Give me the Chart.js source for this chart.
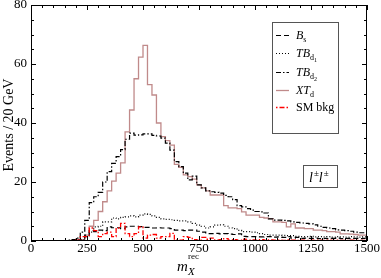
<!DOCTYPE html>
<html><head><meta charset="utf-8">
<script src="https://cdn.jsdelivr.net/npm/chart.js@4"></script>
<style>html,body{margin:0;padding:0;background:#fff}canvas{display:block}</style>
</head><body>
<canvas id="c" width="381" height="278"></canvas>
<script>
// bin edges (GeV), 20 GeV bins
const binEdges = [0,20,40,60,80,100,120,140,160,180,200,220,240,260,280,300,320,340,360,380,
400,420,440,460,480,500,520,540,560,580,600,620,640,660,680,700,720,740,760,780,
800,820,840,860,880,900,920,940,960,980,1000,1020,1040,1060,1080,1100,1120,1140,1160,1180,
1200,1220,1240,1260,1280,1300,1320,1340,1360,1380,1400,1420,1440,1460,1480,1500];

const bsVals = [0,0,0,0,0,0,0,0,0,0.1,
 0.3,1,2,3.5,3.2, 3.7,3.5,4.8,4.5,4.5, 4.2,4.8,5,5,4.9, 4.6,4.6,4.4,4.5,4.4,
 4.4,4.2,3.7,3.7,3.5, 3.7,3.7,3.3,3,2.5, 2.5,2.6,2.4,2.5,2.3, 2.2,2.4,1.6,1.5,1.5,
 1.5,1.4,1.5,1.5,1.3, 1.4,1.2,1.5,1.0,1.2, 0.9,1.0,0.9,1.0,0.8, 0.9,0.8,0.9,1.0,0.8,
 0.9,0.8,0.9,0.8,0.9];
const tbd1Vals = [0,0,0,0,0,0,0,0,0,0,
 0.2,0.5,1.5,3,4.8, 5,6.5,6.5,7.8,7.5, 8,8.2,8.5,8.2,8.8, 9.2,9,8.5,8,7.5,
 7.3,7.2,7,6.8,6.8, 6.5,6,5.4,5,4.4, 4.8,5.4,5.5,5,4.4, 4.2,3.6,3.2,3.2,3,
 2.8,2.5,2.2,2,2, 2,1.9,1.8,1.8,1.6, 1.5,1.5,1.6,1.4,1.5, 1.4,1.5,1.3,1.5,1.4,
 1.3,1.5,1.4,1.3,1.4];
const tbd2Vals = [0,0,0,0,0,0,0,0,0.3,0.5,
 1,3,7,13,15, 16.5,20,23.5,26.3,28.6, 31,34.5,36.6,35.9,36, 36.3,36.3,35.8,35.6,34.9,
 33.2,30.8,26.9,25.2,23, 20.7,22,19,18,17, 16.7,16.5,16.2,15.5,15, 14,12,11.6,11,10.5,
 10,9.9,9.5,7.5,7.1, 7.1,7,6.8,6.5,6.3, 6.1,6,5.8,5.5,5, 4.6,4.4,4.2,3.8,3.7,
 3.5,3.3,3,2.8,2.8];
const xtdVals = [0,0,0,0,0,0,0,0,0,0.2,
 0.3,0.5,2,5,7, 10,13.3,17,20.3,23, 26.5,37,44.4,55,62.3, 66.3,53,49.5,40,35.4,
 34,32.5,26,25,22.4, 21.8,21,19,18,17, 15.6,15.6,15.6,12,11.2, 11.2,11,9.9,8.8,8.8,
 8.8,8,7.8,7.6,6.5, 6.5,6.3,4.8,5.8,4.4, 4.4,4.2,4.2,3.7,3.7, 3.5,3.2,3.2,3,2.4,
 2.4,2.3,2.2,2,2];
const smVals = [0,0,0,0,0,0,0,0,0,0.1,
 0.3,1.5,1.5,4.4,3.5, 1.5,2.5,3,1.5,4.4, 6,2.5,1.5,2.5,4.8, 1,2,2.2,1,1.5,
 1.5,2.6,0.3,0.3,1.5, 1.2,0.5,0.3,1.2,0.6, 1,0.3,0.5,0.8,0.3, 0.5,0.2,0.6,0.3,0.4,
 0.3,0.5,0.2,0.4,0.3, 0.3,0.2,0.4,0.3,0.2, 0.3,0.2,0.3,0.2,0.3, 0.2,0.3,0.2,0.3,0.2,
 0.2,0.3,0.2,0.2,0.2];

const xMajorTicks = [0,250,500,750,1000,1250,1500];
const xMinorTicks = [50,100,150,200,300,350,400,450,550,600,650,700,800,850,900,950,1050,1100,1150,1200,1300,1350,1400,1450];
const yMajorTicks = [0,20,40,60,80];
const yMinorTicks = [5,10,15,25,30,35,45,50,55,65,70,75];

const FONT = '"Liberation Serif", "DejaVu Serif", serif';
const ROSY = '#c08a8a';

function toPts(vals){ return binEdges.map((x,i)=>({x:x, y: vals[Math.min(i, vals.length-1)]})); }

const series = [
 {key:'sm', vals:smVals, color:'#ff0000', dash:[1.5,2,5,2], width:1.3},
 {key:'bs', vals:bsVals, color:'#000', dash:[5,3], width:1.2},
 {key:'tbd1', vals:tbd1Vals, color:'#000', dash:[1,2], width:1.2},
 {key:'tbd2', vals:tbd2Vals, color:'#000', dash:[5,2,1.5,2], width:1.2},
 {key:'xtd', vals:xtdVals, color:ROSY, dash:[], width:1.3}
];

function drawRich(ctx, parts, x, y){
  let cx = x;
  for(const p of parts){
    ctx.font = p.f;
    ctx.fillText(p.t, cx, y + (p.dy||0));
    cx += ctx.measureText(p.t).width + (p.sp||0);
  }
  return cx;
}

const decor = {
  id:'decor',
  afterDatasetsDraw(chart){
    const ctx = chart.ctx, a = chart.chartArea;
    const xs = chart.scales.x, ys = chart.scales.y;
    ctx.save();
    ctx.setLineDash([]);
    ctx.strokeStyle = '#000'; ctx.lineWidth = 1;
    ctx.strokeRect(Math.round(a.left)+0.5, Math.round(a.top)+0.5, Math.round(a.right-a.left)-1, Math.round(a.bottom-a.top)-1);
    ctx.beginPath();
    const xt = (v,len)=>{ const p = Math.round(xs.getPixelForValue(v))+0.5;
      ctx.moveTo(p, a.bottom); ctx.lineTo(p, a.bottom-len);
      ctx.moveTo(p, a.top); ctx.lineTo(p, a.top+len); };
    const yt = (v,len)=>{ const p = Math.round(ys.getPixelForValue(v))+0.5;
      ctx.moveTo(a.left, p); ctx.lineTo(a.left+len, p);
      ctx.moveTo(a.right, p); ctx.lineTo(a.right-len, p); };
    xMajorTicks.forEach(v=>xt(v,5)); xMinorTicks.forEach(v=>xt(v,3));
    yMajorTicks.forEach(v=>yt(v,5)); yMinorTicks.forEach(v=>yt(v,3));
    ctx.stroke();

    ctx.fillStyle = '#000';
    ctx.font = '13px ' + FONT;
    ctx.textAlign = 'center'; ctx.textBaseline = 'middle';
    xMajorTicks.forEach(v=>ctx.fillText(String(v), xs.getPixelForValue(v), a.bottom+8));
    ctx.textAlign = 'right';
    yMajorTicks.forEach(v=>ctx.fillText(String(v), a.left-4, ys.getPixelForValue(v)));

    // y title
    ctx.save();
    ctx.translate(9, 125); ctx.rotate(-Math.PI/2);
    ctx.textAlign = 'center'; ctx.font = '14px ' + FONT;
    ctx.fillText('Events / 20 GeV', 0, 0);
    ctx.restore();

    // x title m_X^rec
    ctx.textAlign = 'left'; ctx.textBaseline = 'alphabetic';
    ctx.font = 'italic 15px ' + FONT;
    ctx.fillText('m', 177, 271);
    ctx.font = 'italic 11px ' + FONT;
    ctx.fillText('X', 188, 275);
    ctx.font = '9px ' + FONT;
    ctx.fillText('rec', 188, 259);

    // legend box
    const lx = 272, ly = 22, lw = 66, lh = 111;
    ctx.fillStyle = '#fff';
    ctx.fillRect(lx, ly, lw, lh);
    ctx.strokeStyle = '#555'; ctx.lineWidth = 1;
    ctx.strokeRect(lx+0.5, ly+0.5, lw, lh);
    const rows = [
      {s:'bs', y:35, parts:[{t:'B', f:'italic 12px '+FONT},{t:'s', f:'8px '+FONT, dy:3}]},
      {s:'tbd1', y:53, parts:[{t:'TB', f:'italic 12px '+FONT},{t:'d', f:'8px '+FONT, dy:3},{t:'1', f:'6px '+FONT, dy:5}]},
      {s:'tbd2', y:72, parts:[{t:'TB', f:'italic 12px '+FONT},{t:'d', f:'8px '+FONT, dy:3},{t:'2', f:'6px '+FONT, dy:5}]},
      {s:'xtd', y:90, parts:[{t:'XT', f:'italic 12px '+FONT},{t:'d', f:'8px '+FONT, dy:3}]},
      {s:'sm', y:107, parts:[{t:'SM bkg', f:'12px '+FONT}]}
    ];
    rows.forEach(r=>{
      const sd = series.find(s=>s.key===r.s);
      ctx.beginPath();
      ctx.strokeStyle = sd.color; ctx.lineWidth = sd.width;
      ctx.setLineDash(sd.dash);
      ctx.moveTo(276, r.y+0.5); ctx.lineTo(289, r.y+0.5);
      ctx.stroke();
      ctx.setLineDash([]);
      ctx.fillStyle = '#000';
      drawRich(ctx, r.parts, 296, r.y+4);
    });

    // channel label box
    ctx.strokeStyle = '#555'; ctx.lineWidth = 1;
    ctx.fillStyle = '#fff';
    ctx.fillRect(303, 165, 34, 22);
    ctx.strokeRect(303.5, 165.5, 34, 22);
    ctx.fillStyle = '#000';
    drawRich(ctx, [
      {t:'l', f:'italic 14px '+FONT, sp:1},{t:'±', f:'9px '+FONT, dy:-6},
      {t:'l', f:'italic 14px '+FONT, sp:1},{t:'±', f:'9px '+FONT, dy:-6}
    ], 309, 182);
    ctx.restore();
  }
};

new Chart(document.getElementById('c'), {
  type:'line',
  data:{ datasets: series.map(s=>({
    label:s.key, data:toPts(s.vals), stepped:true,
    borderColor:s.color, borderWidth:s.width, borderDash:s.dash,
    pointRadius:0, fill:false, tension:0
  }))},
  options:{
    responsive:false, animation:false, devicePixelRatio:1,
    layout:{padding:{left:31, right:14, top:5, bottom:37}},
    plugins:{legend:{display:false}, tooltip:{enabled:false}},
    scales:{
      x:{type:'linear', min:0, max:1500, display:false},
      y:{type:'linear', min:0, max:80, display:false}
    }
  },
  plugins:[decor]
});
</script>
</body></html>
